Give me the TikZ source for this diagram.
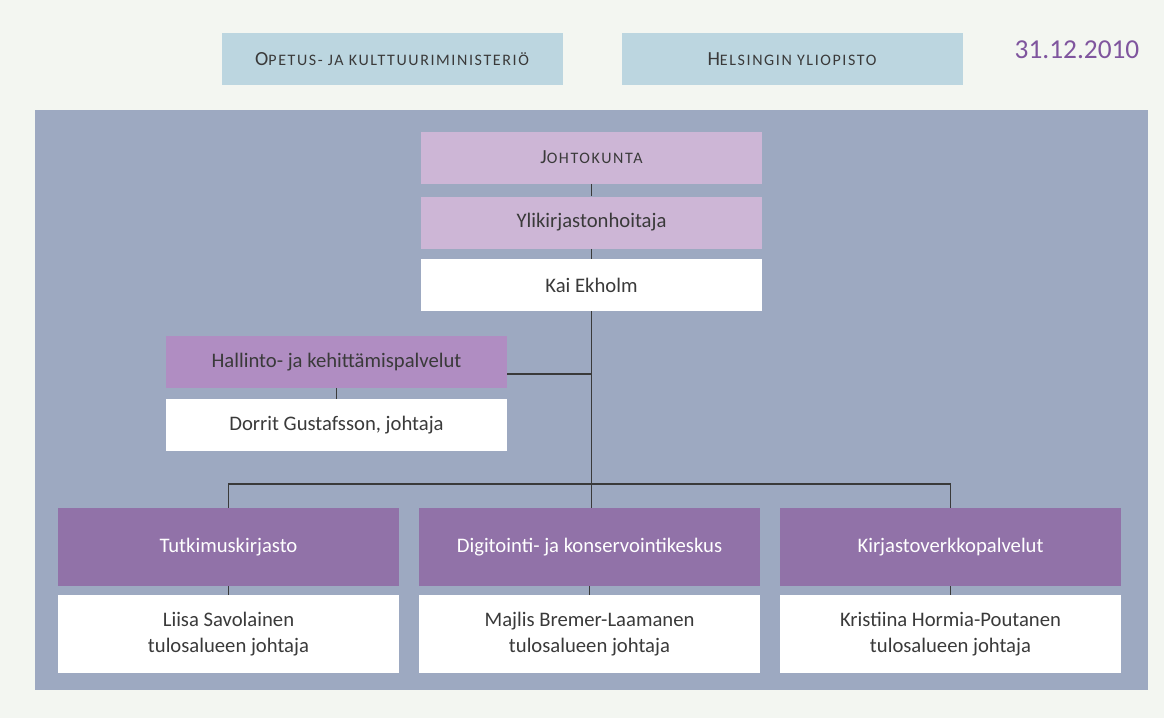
\documentclass[tikz,border=0pt]{standalone}
\usepackage{fontspec}
\setmainfont{Carlito}
\usetikzlibrary{positioning}

\definecolor{pageBg}{HTML}{F3F6F1}
\definecolor{panelBg}{HTML}{9DA9C1}
\definecolor{skyBox}{HTML}{BCD6E0}
\definecolor{paleViolet}{HTML}{CDB6D6}
\definecolor{midViolet}{HTML}{B08DC2}
\definecolor{deepViolet}{HTML}{9172A8}
\definecolor{dateViolet}{HTML}{7F559E}
\definecolor{inkGray}{HTML}{3A3A3A}

% fake small caps: first letter full size, rest smaller, both tracked
\newcommand{\smallCap}[2]{{\addfontfeature{LetterSpace=10}%
  {\fontsize{15}{18}\selectfont #1}{\fontsize{12}{14}\selectfont #2}}}

\tikzset{
  orgBox/.style={minimum width=255.75pt, minimum height=39pt, inner sep=0pt,
    text=inkGray, font=\fontsize{15.5}{18}\selectfont},
  topBox/.style={orgBox, fill=skyBox},
  boardBox/.style={orgBox, fill=paleViolet},
  adminBox/.style={orgBox, fill=midViolet},
  unitBox/.style={orgBox, fill=deepViolet, text=white, minimum height=58.5pt},
  personBox/.style={orgBox, fill=white},
  headBox/.style={orgBox, fill=white, minimum height=58.5pt, align=center,
    font=\fontsize{15.5}{20}\selectfont},
  orgLine/.style={draw=inkGray, line width=1.1pt}
}

\begin{document}
\begin{tikzpicture}[x=0.75pt, y=-0.75pt]
			% Page and panel
			\useasboundingbox (0,0) rectangle (1164,718);
			\fill[pageBg] (0,0) rectangle (1164,718);
			\fill[panelBg] (35,110) rectangle (1148,690);

			% Top row
			\node[topBox] (ministry) at (392,59)
			{\smallCap{O}{PETUS- JA KULTTUURIMINISTERIÖ}};
			\node[topBox] (univ) at (792,59) {\smallCap{H}{ELSINGIN YLIOPISTO}};
			\node[text=dateViolet, font=\fontsize{20.5}{24}\selectfont] (date)
			at (1077,50) {31.12.2010};

			% Management column
			\node[boardBox] (board) at (591.5,157.5) {\smallCap{J}{OHTOKUNTA}};
			\node[boardBox] (chief) at (591.5,222.5) {Ylikirjastonhoitaja};
			\node[personBox] (kai) at (591.5,285) {Kai Ekholm};

			% Administration
			\node[adminBox] (admin) at (336.5,362) {Hallinto- ja kehittämispalvelut};
			\node[personBox] (dorrit) at (336.5,425) {Dorrit Gustafsson, johtaja};

			% Units
			\node[unitBox] (research) at (228.5,547) {Tutkimuskirjasto};
			\node[unitBox] (digit) at (589.5,547) {Digitointi- ja konservointikeskus};
			\node[unitBox] (network) at (950.5,547) {Kirjastoverkkopalvelut};
			\node[headBox] (liisa) at (228.5,634)
			{Liisa Savolainen\\tulosalueen johtaja};
			\node[headBox] (majlis) at (589.5,634)
			{Majlis Bremer-Laamanen\\tulosalueen johtaja};
			\node[headBox] (kristiina) at (950.5,634)
			{Kristiina Hormia-Poutanen\\tulosalueen johtaja};

			% Connectors
			\coordinate (adminJoin) at (591.5,374);
			\coordinate (busJoin) at (591.5,484);
			\draw[orgLine] (board) -- (chief);
			\draw[orgLine] (chief) -- (kai);
			\draw[orgLine] (kai.south) -- (busJoin);
			\draw[orgLine] (admin.east |- adminJoin) -- (adminJoin);
			\draw[orgLine] (admin) -- (dorrit);
			\draw[orgLine] (research.north) -- (research.north |- busJoin)
			-| (network.north);
			\draw[orgLine] (busJoin) -- (busJoin |- digit.north);
			\draw[orgLine] (research) -- (liisa);
			\draw[orgLine] (digit) -- (majlis);
			\draw[orgLine] (network) -- (kristiina);
		\end{tikzpicture}
\end{document}
